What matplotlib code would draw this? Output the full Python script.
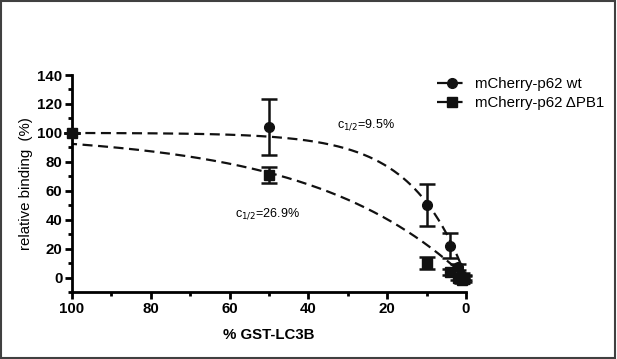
import numpy as np
import matplotlib
matplotlib.use("Agg")
import matplotlib.pyplot as plt
from matplotlib.patches import Rectangle
from matplotlib.lines import Line2D
from matplotlib.ticker import MultipleLocator

plt.rcParams['font.family'] = ['Liberation Sans', 'DejaVu Sans']

# data
x_conc = [100, 50, 10, 4, 2, 1, 0.5]
wt_y = [100, 104, 50, 22, 7.5, 1, 0]
wt_err = [0, 19.5, 14.5, 8.5, 2, 2, 2]
dpb1_y = [100, 71, 10, 4, 0, -2, -1]
dpb1_err = [0, 5.5, 4, 2, 2, 2, 2]
c_half_wt = 9.5
c_half_dpb1 = 26.9
labels = ["mCherry-p62 wt", "mCherry-p62 \u0394PB1"]

fig = plt.figure(figsize=(6.17, 3.59), dpi=100)
ax = fig.add_axes([0.1167, 0.1866, 0.6386, 0.6044])

xs = np.linspace(0, 100, 400)
def fit(c):
    return 100 * (1 - 2 ** (-xs / c))

dash = (0, (4.5, 2.5))
ax.plot(xs, fit(c_half_wt), ls=dash, color='#111111', lw=1.6, zorder=2)
ax.plot(xs, fit(c_half_dpb1), ls=dash, color='#111111', lw=1.6, zorder=2)

ax.errorbar(x_conc, wt_y, yerr=wt_err, fmt='o', color='#111111', ms=7,
            capsize=6, elinewidth=1.8, capthick=1.8, clip_on=False, zorder=3)
ax.errorbar(x_conc, dpb1_y, yerr=dpb1_err, fmt='s', color='#111111', ms=7,
            capsize=6, elinewidth=1.8, capthick=1.8, clip_on=False, zorder=3)

ax.set_xlim(100, 0)
ax.set_ylim(-10, 140)
ax.xaxis.set_major_locator(MultipleLocator(20))
ax.xaxis.set_minor_locator(MultipleLocator(10))
ax.yaxis.set_major_locator(MultipleLocator(20))
ax.yaxis.set_minor_locator(MultipleLocator(10))
ax.set_yticks([0, 20, 40, 60, 80, 100, 120, 140])

for s in ['top', 'right']:
    ax.spines[s].set_visible(False)
for s in ['left', 'bottom']:
    ax.spines[s].set_linewidth(2)
ax.tick_params(which='major', direction='out', length=5, width=2, labelsize=10.8, pad=2)
ax.tick_params(which='minor', direction='out', length=3, width=2)
for lab in ax.get_xticklabels() + ax.get_yticklabels():
    lab.set_fontweight('bold')

ax.set_ylabel('relative binding  (%)', fontsize=10.8, labelpad=3)
ax.set_xlabel('% GST-LC3B', fontsize=10.8, fontweight='bold', labelpad=9)

ax.text(25.4, 106, r'c$_{1/2}$=9.5%', fontsize=9, ha='center', va='center')
ax.text(50.5, 44, r'c$_{1/2}$=26.9%', fontsize=9, ha='center', va='center')

h1 = Line2D([], [], ls=dash, color='#111111', lw=1.6, marker='o', ms=7)
h2 = Line2D([], [], ls=dash, color='#111111', lw=1.6, marker='s', ms=7)
fig.legend([h1, h2], labels, loc='upper left', bbox_to_anchor=(0.687, 0.823),
           frameon=False, fontsize=10.8, handlelength=2.0, handletextpad=0.5,
           labelspacing=0.35)

fig.patches.append(Rectangle((0.002, 0.004), 0.995, 0.993, transform=fig.transFigure,
                             fill=False, edgecolor='#404040', lw=1.5))

fig.savefig('out.png', dpi=100)
